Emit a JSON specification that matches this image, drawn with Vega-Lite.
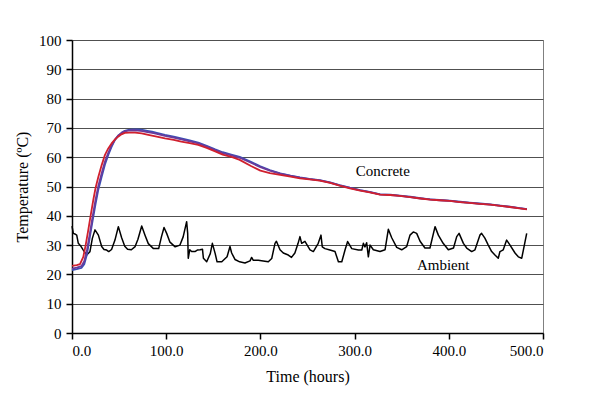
{
  "$schema": "https://vega.github.io/schema/vega-lite/v6.json",
  "width": 471,
  "height": 293,
  "autosize": {"type": "none"},
  "padding": {"left": 72, "top": 40, "right": 48, "bottom": 64},
  "background": "white",
  "config": {
    "view": {"stroke": "#808080", "strokeWidth": 1}
  },
  "datasets": {
    "concrete": [
      {"s": "C1", "t": 0, "T": 21.5}, {"s": "C1", "t": 5, "T": 21.8}, {"s": "C1", "t": 10, "T": 22.2}, {"s": "C1", "t": 13, "T": 23.5},
      {"s": "C1", "t": 16, "T": 27}, {"s": "C1", "t": 19, "T": 32.9}, {"s": "C1", "t": 22, "T": 38.5}, {"s": "C1", "t": 25, "T": 44},
      {"s": "C1", "t": 28, "T": 49}, {"s": "C1", "t": 31.5, "T": 53.3}, {"s": "C1", "t": 35, "T": 57.5}, {"s": "C1", "t": 38.5, "T": 60.8},
      {"s": "C1", "t": 42, "T": 63.5}, {"s": "C1", "t": 45.6, "T": 65.9}, {"s": "C1", "t": 49, "T": 67.3}, {"s": "C1", "t": 52.8, "T": 68.4},
      {"s": "C1", "t": 56, "T": 69}, {"s": "C1", "t": 60, "T": 69.3}, {"s": "C1", "t": 65, "T": 69.5}, {"s": "C1", "t": 70, "T": 69.5},
      {"s": "C1", "t": 75, "T": 69.3}, {"s": "C1", "t": 80, "T": 69}, {"s": "C1", "t": 85, "T": 68.7}, {"s": "C1", "t": 90, "T": 68.3},
      {"s": "C1", "t": 98.7, "T": 67.6}, {"s": "C1", "t": 108, "T": 67}, {"s": "C1", "t": 116, "T": 66.4}, {"s": "C1", "t": 125, "T": 65.7},
      {"s": "C1", "t": 134, "T": 65}, {"s": "C1", "t": 143, "T": 63.9}, {"s": "C1", "t": 152, "T": 62.7}, {"s": "C1", "t": 160, "T": 61.7},
      {"s": "C1", "t": 170, "T": 60.8}, {"s": "C1", "t": 178, "T": 60.1}, {"s": "C1", "t": 190, "T": 58.4}, {"s": "C1", "t": 200, "T": 56.9},
      {"s": "C1", "t": 210, "T": 55.6}, {"s": "C1", "t": 221, "T": 54.5}, {"s": "C1", "t": 232, "T": 53.7}, {"s": "C1", "t": 242, "T": 53.1},
      {"s": "C1", "t": 252, "T": 52.6}, {"s": "C1", "t": 263, "T": 52.2}, {"s": "C1", "t": 274, "T": 51.4}, {"s": "C1", "t": 284, "T": 50.5},
      {"s": "C1", "t": 295, "T": 49.6}, {"s": "C1", "t": 306, "T": 48.8}, {"s": "C1", "t": 316, "T": 48.2}, {"s": "C1", "t": 327, "T": 47.3},
      {"s": "C1", "t": 338, "T": 47.2}, {"s": "C1", "t": 348, "T": 46.9}, {"s": "C1", "t": 359, "T": 46.5}, {"s": "C1", "t": 370, "T": 46},
      {"s": "C1", "t": 380, "T": 45.6}, {"s": "C1", "t": 390, "T": 45.4}, {"s": "C1", "t": 401, "T": 45.2}, {"s": "C1", "t": 412, "T": 44.8},
      {"s": "C1", "t": 422, "T": 44.5}, {"s": "C1", "t": 433, "T": 44.2}, {"s": "C1", "t": 444, "T": 43.9}, {"s": "C1", "t": 455, "T": 43.5},
      {"s": "C1", "t": 465, "T": 43.1}, {"s": "C1", "t": 475, "T": 42.6}, {"s": "C1", "t": 483, "T": 42.3},

      {"s": "C2", "t": 0, "T": 22.0}, {"s": "C2", "t": 5, "T": 22.3}, {"s": "C2", "t": 10, "T": 22.8}, {"s": "C2", "t": 13, "T": 24.5},
      {"s": "C2", "t": 16, "T": 28.5}, {"s": "C2", "t": 19, "T": 34}, {"s": "C2", "t": 22, "T": 40}, {"s": "C2", "t": 25, "T": 45.5},
      {"s": "C2", "t": 28, "T": 50.3}, {"s": "C2", "t": 31.5, "T": 54.5}, {"s": "C2", "t": 35, "T": 58.5}, {"s": "C2", "t": 38.5, "T": 61.5},
      {"s": "C2", "t": 42, "T": 64}, {"s": "C2", "t": 45.6, "T": 66}, {"s": "C2", "t": 49, "T": 67.4}, {"s": "C2", "t": 52.8, "T": 68.3},
      {"s": "C2", "t": 56, "T": 68.8}, {"s": "C2", "t": 60, "T": 69.1}, {"s": "C2", "t": 65, "T": 69.2}, {"s": "C2", "t": 70, "T": 69.1},
      {"s": "C2", "t": 75, "T": 68.9}, {"s": "C2", "t": 80, "T": 68.6}, {"s": "C2", "t": 85, "T": 68.3}, {"s": "C2", "t": 90, "T": 68},
      {"s": "C2", "t": 98.7, "T": 67.3}, {"s": "C2", "t": 108, "T": 66.7}, {"s": "C2", "t": 116, "T": 66.1}, {"s": "C2", "t": 125, "T": 65.4},
      {"s": "C2", "t": 134, "T": 64.7}, {"s": "C2", "t": 143, "T": 63.6}, {"s": "C2", "t": 152, "T": 62.4}, {"s": "C2", "t": 160, "T": 61.4},
      {"s": "C2", "t": 170, "T": 60.5}, {"s": "C2", "t": 178, "T": 59.8}, {"s": "C2", "t": 190, "T": 58.1}, {"s": "C2", "t": 200, "T": 56.6},
      {"s": "C2", "t": 210, "T": 55.4}, {"s": "C2", "t": 221, "T": 54.4}, {"s": "C2", "t": 232, "T": 53.6}, {"s": "C2", "t": 242, "T": 53},
      {"s": "C2", "t": 252, "T": 52.5}, {"s": "C2", "t": 263, "T": 52.1}, {"s": "C2", "t": 274, "T": 51.3}, {"s": "C2", "t": 284, "T": 50.4},
      {"s": "C2", "t": 295, "T": 49.5}, {"s": "C2", "t": 306, "T": 48.7}, {"s": "C2", "t": 316, "T": 48.1}, {"s": "C2", "t": 327, "T": 47.3},
      {"s": "C2", "t": 338, "T": 47.1}, {"s": "C2", "t": 348, "T": 46.8}, {"s": "C2", "t": 359, "T": 46.4}, {"s": "C2", "t": 370, "T": 45.9},
      {"s": "C2", "t": 380, "T": 45.6}, {"s": "C2", "t": 390, "T": 45.3}, {"s": "C2", "t": 401, "T": 45.1}, {"s": "C2", "t": 412, "T": 44.7},
      {"s": "C2", "t": 422, "T": 44.4}, {"s": "C2", "t": 433, "T": 44.1}, {"s": "C2", "t": 444, "T": 43.8}, {"s": "C2", "t": 455, "T": 43.4},
      {"s": "C2", "t": 465, "T": 43}, {"s": "C2", "t": 475, "T": 42.6}, {"s": "C2", "t": 483, "T": 42.3},

      {"s": "C3", "t": 0, "T": 22.9}, {"s": "C3", "t": 5, "T": 23.2}, {"s": "C3", "t": 8.5, "T": 23.5}, {"s": "C3", "t": 12, "T": 26},
      {"s": "C3", "t": 14.5, "T": 30}, {"s": "C3", "t": 17.3, "T": 35.2}, {"s": "C3", "t": 20, "T": 40.5}, {"s": "C3", "t": 22.6, "T": 45.4},
      {"s": "C3", "t": 25, "T": 49.5}, {"s": "C3", "t": 28, "T": 53.3}, {"s": "C3", "t": 31.5, "T": 57.3}, {"s": "C3", "t": 35, "T": 60.8},
      {"s": "C3", "t": 38.5, "T": 63}, {"s": "C3", "t": 42, "T": 64.7}, {"s": "C3", "t": 45.5, "T": 66}, {"s": "C3", "t": 49, "T": 67},
      {"s": "C3", "t": 52.5, "T": 67.8}, {"s": "C3", "t": 56, "T": 68.3}, {"s": "C3", "t": 61, "T": 68.4}, {"s": "C3", "t": 67, "T": 68.4},
      {"s": "C3", "t": 74, "T": 68.1}, {"s": "C3", "t": 81, "T": 67.6}, {"s": "C3", "t": 90, "T": 67}, {"s": "C3", "t": 98.7, "T": 66.4},
      {"s": "C3", "t": 108, "T": 65.9}, {"s": "C3", "t": 116, "T": 65.3}, {"s": "C3", "t": 125, "T": 64.8}, {"s": "C3", "t": 134, "T": 64.2},
      {"s": "C3", "t": 143, "T": 63.2}, {"s": "C3", "t": 152, "T": 62}, {"s": "C3", "t": 160, "T": 60.9}, {"s": "C3", "t": 170, "T": 60},
      {"s": "C3", "t": 178, "T": 59.1}, {"s": "C3", "t": 190, "T": 57}, {"s": "C3", "t": 200, "T": 55.4}, {"s": "C3", "t": 210, "T": 54.6},
      {"s": "C3", "t": 221, "T": 54}, {"s": "C3", "t": 232, "T": 53.4}, {"s": "C3", "t": 242, "T": 52.8}, {"s": "C3", "t": 252, "T": 52.4},
      {"s": "C3", "t": 263, "T": 52}, {"s": "C3", "t": 274, "T": 51.2}, {"s": "C3", "t": 284, "T": 50.3}, {"s": "C3", "t": 295, "T": 49.4},
      {"s": "C3", "t": 306, "T": 48.6}, {"s": "C3", "t": 316, "T": 48}, {"s": "C3", "t": 327, "T": 47.2}, {"s": "C3", "t": 338, "T": 47.1},
      {"s": "C3", "t": 348, "T": 46.8}, {"s": "C3", "t": 359, "T": 46.4}, {"s": "C3", "t": 370, "T": 45.9}, {"s": "C3", "t": 380, "T": 45.5},
      {"s": "C3", "t": 390, "T": 45.3}, {"s": "C3", "t": 401, "T": 45.1}, {"s": "C3", "t": 412, "T": 44.7}, {"s": "C3", "t": 422, "T": 44.4},
      {"s": "C3", "t": 433, "T": 44.1}, {"s": "C3", "t": 444, "T": 43.8}, {"s": "C3", "t": 455, "T": 43.4}, {"s": "C3", "t": 465, "T": 43},
      {"s": "C3", "t": 475, "T": 42.5}, {"s": "C3", "t": 483, "T": 42.2}
    ],
    "ambient": [
      {"t": 0, "T": 36.5}, {"t": 1.4, "T": 34}, {"t": 3, "T": 33.8}, {"t": 5, "T": 33.4}, {"t": 6.7, "T": 30.6}, {"t": 9, "T": 29.8},
      {"t": 12, "T": 28.3}, {"t": 15.6, "T": 26.6}, {"t": 19, "T": 27.7}, {"t": 21.6, "T": 32.3}, {"t": 24.4, "T": 35.2}, {"t": 28, "T": 33.4},
      {"t": 31.5, "T": 29.5}, {"t": 34, "T": 28.5}, {"t": 36.8, "T": 28.3}, {"t": 39, "T": 27.8}, {"t": 42, "T": 28.5}, {"t": 45.6, "T": 31.7},
      {"t": 49.2, "T": 36.3}, {"t": 52.7, "T": 32.5}, {"t": 56, "T": 29.6}, {"t": 59, "T": 28.6}, {"t": 63, "T": 28.4}, {"t": 67, "T": 29.5},
      {"t": 70, "T": 32}, {"t": 74, "T": 36.5}, {"t": 77.5, "T": 33.4}, {"t": 81, "T": 30.5}, {"t": 86.5, "T": 28.8}, {"t": 92, "T": 28.8},
      {"t": 95, "T": 32.9}, {"t": 97.7, "T": 36}, {"t": 100.5, "T": 34}, {"t": 104, "T": 31}, {"t": 109.5, "T": 29.4}, {"t": 114.6, "T": 30},
      {"t": 118, "T": 32.8}, {"t": 121.7, "T": 38}, {"t": 122.8, "T": 34}, {"t": 123.4, "T": 25.5}, {"t": 125, "T": 28.4}, {"t": 127, "T": 27.8},
      {"t": 130.5, "T": 27.8}, {"t": 133, "T": 28.3}, {"t": 136, "T": 28.4}, {"t": 138.5, "T": 28.6}, {"t": 139.5, "T": 25.5}, {"t": 143, "T": 24.3},
      {"t": 146.8, "T": 27.1}, {"t": 149, "T": 30.6}, {"t": 152, "T": 27.1}, {"t": 154, "T": 24.3}, {"t": 159, "T": 24.3}, {"t": 164.6, "T": 26},
      {"t": 167.7, "T": 29.5}, {"t": 169.5, "T": 27.3}, {"t": 173, "T": 25.1}, {"t": 178, "T": 24.3}, {"t": 183.6, "T": 23.9}, {"t": 189, "T": 24.6},
      {"t": 190.7, "T": 25.8}, {"t": 192.5, "T": 24.8}, {"t": 197.8, "T": 24.8}, {"t": 203, "T": 24.6}, {"t": 208.4, "T": 24.3}, {"t": 212, "T": 25.4},
      {"t": 215.5, "T": 30.6}, {"t": 217, "T": 31.3}, {"t": 220.8, "T": 28.4}, {"t": 224.3, "T": 27.3}, {"t": 229.6, "T": 26.6}, {"t": 233, "T": 25.8},
      {"t": 236.6, "T": 27.3}, {"t": 240, "T": 30.6}, {"t": 242, "T": 32.9}, {"t": 243.8, "T": 30.6}, {"t": 247.3, "T": 31.3}, {"t": 252.7, "T": 28.4},
      {"t": 256.2, "T": 27.8}, {"t": 261.4, "T": 30.6}, {"t": 264.3, "T": 33.4}, {"t": 265.7, "T": 29.4}, {"t": 268.5, "T": 28.8}, {"t": 273.8, "T": 28.3},
      {"t": 279.2, "T": 27.8}, {"t": 282.8, "T": 24.3}, {"t": 286.4, "T": 24.3}, {"t": 289.9, "T": 28.4}, {"t": 292.6, "T": 31.2}, {"t": 297, "T": 28.8},
      {"t": 304, "T": 28.3}, {"t": 307.6, "T": 28.3}, {"t": 309.3, "T": 30.6}, {"t": 311, "T": 29.4}, {"t": 312.8, "T": 30.8}, {"t": 314.6, "T": 26},
      {"t": 316.4, "T": 30}, {"t": 319.9, "T": 28.4}, {"t": 327, "T": 27.8}, {"t": 332.3, "T": 28.4}, {"t": 335.8, "T": 35.4}, {"t": 339.4, "T": 32.5},
      {"t": 344.7, "T": 29.2}, {"t": 350, "T": 28.4}, {"t": 355.3, "T": 29.5}, {"t": 358.8, "T": 33.4}, {"t": 362.3, "T": 34.5}, {"t": 365.9, "T": 34},
      {"t": 369.5, "T": 31.3}, {"t": 374.7, "T": 29}, {"t": 380, "T": 29}, {"t": 385.4, "T": 36.3}, {"t": 388.9, "T": 33.4}, {"t": 394, "T": 30.6},
      {"t": 399.5, "T": 28.4}, {"t": 405, "T": 29}, {"t": 408.4, "T": 32.9}, {"t": 410.9, "T": 34}, {"t": 415.5, "T": 30.6}, {"t": 419, "T": 29},
      {"t": 424.3, "T": 27.8}, {"t": 427.8, "T": 28.4}, {"t": 433, "T": 33.4}, {"t": 434.8, "T": 34}, {"t": 438.3, "T": 32.4}, {"t": 441.9, "T": 30},
      {"t": 445.5, "T": 27.8}, {"t": 449, "T": 26.6}, {"t": 452.5, "T": 25.5}, {"t": 454.3, "T": 27.8}, {"t": 457.8, "T": 28.4}, {"t": 461.4, "T": 31.7},
      {"t": 465, "T": 30}, {"t": 470.3, "T": 27.3}, {"t": 473.8, "T": 26}, {"t": 477.4, "T": 25.5}, {"t": 479.2, "T": 28.4}, {"t": 481, "T": 31.3},
      {"t": 482.7, "T": 34}
    ],
    "labels": [
      {"t": 330, "T": 55.3, "label": "Concrete"},
      {"t": 394, "T": 23.2, "label": "Ambient"}
    ]
  },
  "encoding": {
    "x": {
      "field": "t", "type": "quantitative",
      "scale": {"domain": [0, 500], "nice": false},
      "axis": {
        "values": [0, 100, 200, 300, 400, 500], "format": ".1f", "grid": false, "title": "Time (hours)",
        "labelFont": "Liberation Serif", "labelFontSize": 15, "labelColor": "black", "labelPadding": 4,
        "titleFont": "Liberation Serif", "titleFontSize": 16, "titleFontWeight": "normal", "titleColor": "black", "titlePadding": 10,
        "domainColor": "black", "domainWidth": 1.5, "tickColor": "black", "tickWidth": 1.5, "tickSize": 6
      }
    },
    "y": {
      "field": "T", "type": "quantitative",
      "scale": {"domain": [0, 100], "nice": false},
      "axis": {
        "values": [0, 10, 20, 30, 40, 50, 60, 70, 80, 90, 100], "grid": true, "gridColor": "#505050", "gridWidth": 1, "title": "Temperature (ºC)",
        "labelFont": "Liberation Serif", "labelFontSize": 15, "labelColor": "black", "labelPadding": 5,
        "titleFont": "Liberation Serif", "titleFontSize": 16, "titleFontWeight": "normal", "titleColor": "black", "titlePadding": 8,
        "domainColor": "black", "domainWidth": 1.5, "tickColor": "black", "tickWidth": 1.5, "tickSize": 6
      }
    }
  },
  "layer": [
    {
      "data": {"name": "ambient"},
      "mark": {"type": "line", "color": "black", "strokeWidth": 1.5, "strokeJoin": "round"},
      "encoding": {}
    },
    {
      "data": {"name": "concrete"},
      "mark": {"type": "line", "strokeWidth": 1.8, "strokeJoin": "round"},
      "encoding": {
        "color": {"field": "s", "type": "nominal", "legend": null,
          "scale": {"domain": ["C1", "C2", "C3"], "range": ["#3a4fb5", "#6b3a9a", "#d0202e"]}},
        "detail": {"field": "s"}
      }
    },
    {
      "data": {"name": "labels"},
      "mark": {"type": "text", "font": "Liberation Serif", "fontSize": 15, "color": "black"},
      "encoding": {"text": {"field": "label"}}
    }
  ]
}
